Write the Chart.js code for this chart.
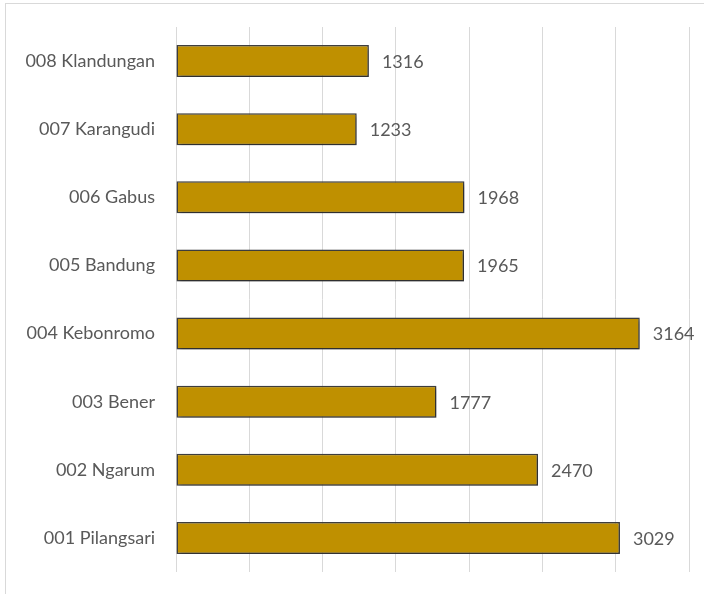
<!DOCTYPE html>
<html>
<head>
<meta charset="utf-8">
<script src="https://cdn.jsdelivr.net/npm/chart.js@4"></script>
<style>
  html, body { margin: 0; padding: 0; background: #fff; }
  #wrap { position: relative; width: 704px; height: 594px; overflow: hidden; }
  #frame { position: absolute; left: 5px; top: 3px; width: 720px; height: 620px; border: 1px solid #d9d9d9; }
  canvas { position: absolute; left: 0; top: 0; }
</style>
</head>
<body>
<div id="wrap">
  <div id="frame"></div>
  <canvas id="chart" width="704" height="594"></canvas>
</div>
<script>
// categories, top to bottom
const villages = ['008 Klandungan', '007 Karangudi', '006 Gabus', '005 Bandung',
                  '004 Kebonromo', '003 Bener', '002 Ngarum', '001 Pilangsari'];
const counts = [1316, 1233, 1968, 1965, 3164, 1777, 2470, 3029];
const axisMax = 3500;
const axisStep = 500;

const textColor = '#595959';
const fontFamily = 'Lato, "Open Sans", sans-serif';
const fontSize = 18;

// soft drop shadow under the bars
const barShadow = {
    id: 'barShadow',
    beforeDatasetsDraw(chart) {
        const ctx = chart.ctx;
        ctx.save();
        ctx.shadowColor = 'rgba(0,0,0,0.35)';
        ctx.shadowBlur = 4;
        ctx.shadowOffsetX = 2;
        ctx.shadowOffsetY = 2;
    },
    afterDatasetsDraw(chart) {
        chart.ctx.restore();
    }
};

// value labels to the right of each bar
const valueLabels = {
    id: 'valueLabels',
    afterDatasetsDraw(chart) {
        const ctx = chart.ctx;
        const meta = chart.getDatasetMeta(0);
        ctx.save();
        ctx.fillStyle = textColor;
        ctx.font = fontSize + 'px ' + fontFamily;
        ctx.textAlign = 'left';
        ctx.textBaseline = 'middle';
        meta.data.forEach((bar, i) => {
            ctx.fillText(String(chart.data.datasets[0].data[i]), bar.x + 13, bar.y + 1);
        });
        ctx.restore();
    }
};

new Chart(document.getElementById('chart'), {
    type: 'bar',
    data: {
        labels: villages,
        datasets: [{
            data: counts,
            backgroundColor: '#BF9000',
            borderColor: '#404040',
            borderWidth: 1.5,
            borderSkipped: false,
            barPercentage: 0.47,
            categoryPercentage: 1
        }]
    },
    options: {
        indexAxis: 'y',
        responsive: false,
        animation: false,
        layout: { padding: { left: 0, top: 27, right: 15, bottom: 22 } },
        plugins: {
            legend: { display: false },
            tooltip: { enabled: false }
        },
        scales: {
            x: {
                min: 0,
                max: axisMax,
                ticks: { display: false, stepSize: axisStep },
                grid: { color: '#d9d9d9', lineWidth: 1, drawTicks: false },
                border: { display: false },
                afterFit(scale) { scale.height = 0; scale.paddingLeft = 0; scale.paddingRight = 0; }
            },
            y: {
                grid: { display: false, drawTicks: false },
                border: { display: false },
                ticks: {
                    color: textColor,
                    font: { family: fontFamily, size: fontSize },
                    padding: 21
                },
                afterFit(scale) {
                    scale.width = 176;
                    scale.paddingTop = 0;
                    scale.paddingBottom = 0;
                }
            }
        }
    },
    plugins: [barShadow, valueLabels]
});
</script>
</body>
</html>
